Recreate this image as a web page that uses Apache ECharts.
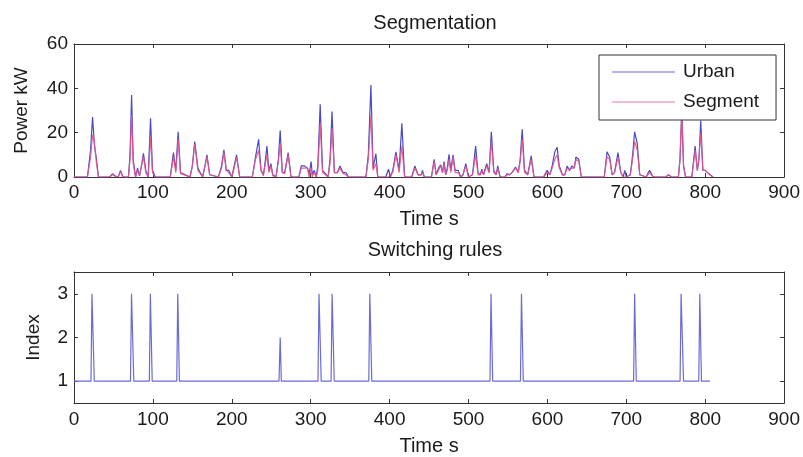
<!DOCTYPE html>
<html>
<head>
<meta charset="utf-8">
<title>Segmentation</title>
<script src="https://cdn.jsdelivr.net/npm/echarts@6/dist/echarts.min.js"></script>
<style>
  html,body{margin:0;padding:0;background:#fff;}
  #main{width:803px;height:457px;}
</style>
</head>
<body>
<div id="main"></div>
<script>
// 时间轴 (s) 与两条功率曲线 (kW)
var timeS = [0,17,21,23.5,26,28.5,31,45,49,52,56,59,62,69,71,73,75,78,80.5,83,86,88,91,94,97,99.5,103,
  122,126,129,132,135,147,150,153,157,163,166,168.5,172,183,187,190,193,196,200,203,206,210,
  226,230,234,237,240,242,244.5,247,249.5,252,256,259,261.3,264,267,271.4,275,
  285,288,292,296,298,300.5,302,304.5,307,309,312,315,322,324.5,327,330,334,337,341,344.6,348,
  370,373,376.3,379,382.6,385,395,398.6,401,404,408,412,415.5,419,
  428,432,436,440,441.6,444,453,456.4,459,462,464.8,467,469,471,473,475.3,477.5,480.4,483,487,490,
  493,496.5,500,505,509,512,515,516.7,519,523,526,528.9,532,535,537,540,
  546,549,552,555,559.6,563,565.5,568,571,575,579.4,583,
  595,599.6,603,606,609.4,612.3,615,619,622,625,628,631,634,636,639.7,643,
  672,675.5,678.9,682,685,689.4,693,696,698,700,705,708,710.5,713.9,717,725,729.5,734,
  750,753.5,757,766,768,770.3,772.5,775,783,787.2,790,792,794.3,797,800,803,806,810];
var urbanKw = [0,0,12,27,14,8,0,0,1.5,0.5,0,3,0,0,10,37,8,0,4,0.5,6,10.7,3,0,26.5,3,0,
  0,11,3,20.4,2,0,5,16,4,0,5,10,1,0,5,12.3,3,3,0,5,10,0,
  0,9,17,3,1,6,14,3,6,1,0,8,21,2,2,11,0,
  0,5,5,4,1,7,1,3,0,5,32.8,3,0,8,29.5,2,2,5,2,2,0,
  0,10,41.5,4,10.5,0,0,3.5,0,3,11.4,3,24.2,0,
  0,5,1,1,3,0,0,8,1,4,5.5,2,7,1,4,10.2,3,10,3,3,0,
  1,6,0,1,14,2,1,3.5,1,6,2,20.4,3,1,5,0,
  0,1.5,1,2,4.5,2,8,21.5,3,1,9.5,0,
  0,3,1,5,11.4,13.4,5,1,1,5,3,5,4,9,8,0,
  0,11.4,9,1,2,11,2,0,3,0,1,10,20.4,15,1,0,3,0,
  0,1,0,0,8,30,5,0,0,14,3,8,25.5,3,3,2,1,0];
var segmentKw = [0,0,9,19,15,6,0,0,1,0.3,0,2.5,0,0,8,28,6,0,3,0.5,6,9,2,0,18,2,0,
  0,9,2,17,1.5,0,5,15,3,0,5,9,1,0,4,11,3,2,0,4,9,0,
  0,8,12,3,0.5,5,10,2,5,0.5,0,7,15,2,1.5,10,0,
  0,4,4,4,0,4,0,2,0,3,24,2,0,6,22,2,2,4,1.5,1,0,
  0,8,28,3,6,0,0,0,0,2,10,2,14,0,
  0,4,1,1,2,0,0,7,1,3,5,2,6,1,3,8,2,9,2,2,0,
  1,5,0,1,10,1,1,3,1,5,2,16,2,1,4,0,
  0,1,1,2,4,2,7,17,2,1,8,0,
  0,2,1,4,8,10,4,1,1,4,3,4,4,8,7,0,
  0,9,8,1,2,9,2,0,0,0,1,8,16,12,1,0,2,0,
  0,1,0,0,8,30,5,0,0,12,3,8,20,3,3,2,1,0];

// 切换规则 (Index)
var ruleTimeS = [0,21.5,22.8,24.4,25.7,71.6,72.9,74.5,75.8,95.5,96.8,97.8,99.1,130.2,131.5,132.3,133.6,
  259.8,261.3,262.8,309.2,310.5,312,313.3,325.8,327.1,328.5,329.8,373.6,374.9,376.1,377.4,
  527.2,528.5,529.3,530.6,565.8,567.1,568.1,569.4,709.2,710.5,711.3,712.6,
  768.1,769.4,770.6,772.5,791.8,793.1,793.9,795.2,806];
var ruleIndex = [1,1,3,3,1,1,3,3,1,1,3,3,1,1,3,3,1,
  1,2,1,1,3,3,1,1,3,3,1,1,3,3,1,
  1,3,3,1,1,3,3,1,1,3,3,1,
  1,3,3,1,1,3,3,1,1];

var timeTicks = [0,100,200,300,400,500,600,700,800,900];
var powerTicks = [0,20,40,60];
var indexTicks = [1,2,3];

(function(dom){
    var chart={
        config:{
            font:"'Liberation Sans', Arial, sans-serif",
            axisColor:"#333",
            textColor:"#1a1a1a"
        },
        init:function(){
            this.myChart=echarts.init(dom.getElementById('main'),null,{renderer:'canvas'});
            this.myChart.setOption(this.buildOption());
        },
        pairs:function(xs,ys){
            var arr=[];
            for(var i=0;i<xs.length;i++){
                arr.push([xs[i],ys[i]]);
            }
            return arr;
        },
        //共用的轴线和刻度 (onZero 要关掉, 否则顶/右轴会被挪走)
        line:function(){
            return {show:true,onZero:false,lineStyle:{color:this.config.axisColor,width:1}};
        },
        tick:function(ticks){
            var t={show:true,inside:true,length:4,lineStyle:{color:this.config.axisColor}};
            if(ticks) t.customValues=ticks;
            return t;
        },
        //底部x轴(带标签)
        xBottom:function(grid,gap,margin){
            var c=this.config;
            return {
                type:'value',gridIndex:grid,position:'bottom',
                min:0,max:900,interval:100,
                name:'Time s',nameLocation:'middle',nameGap:gap,
                nameTextStyle:{fontFamily:c.font,fontSize:20,color:c.textColor},
                axisLine:this.line(),
                axisTick:this.tick(timeTicks),
                axisLabel:{fontFamily:c.font,fontSize:19,color:c.textColor,margin:margin,
                    customValues:timeTicks},
                splitLine:{show:false}
            };
        },
        //顶部x轴(只有刻度)
        xTop:function(grid){
            return {
                type:'value',gridIndex:grid,position:'top',
                min:0,max:900,interval:100,
                axisLine:this.line(),
                axisTick:this.tick(timeTicks),
                axisLabel:{show:false},
                splitLine:{show:false}
            };
        },
        yLeft:function(grid,name,gap,min,max,ticks){
            var c=this.config;
            return {
                type:'value',gridIndex:grid,position:'left',
                min:min,max:max,
                name:name,nameLocation:'middle',nameGap:gap,
                nameTextStyle:{fontFamily:c.font,fontSize:19,color:c.textColor},
                axisLine:this.line(),
                axisTick:this.tick(ticks),
                axisLabel:{fontFamily:c.font,fontSize:19,color:c.textColor,margin:6,customValues:ticks},
                splitLine:{show:false}
            };
        },
        yRight:function(grid,min,max,ticks){
            return {
                type:'value',gridIndex:grid,position:'right',
                min:min,max:max,
                axisLine:this.line(),
                axisTick:this.tick(ticks),
                axisLabel:{show:false},
                splitLine:{show:false}
            };
        },
        buildOption:function(){
            var c=this.config;
            return {
                animation:false,
                backgroundColor:'#fff',
                title:[
                    {text:'Segmentation',left:430,top:8,textAlign:'center',
                        textStyle:{fontFamily:c.font,fontSize:20,fontWeight:'normal',color:c.textColor}},
                    {text:'Switching rules',left:430,top:235,textAlign:'center',
                        textStyle:{fontFamily:c.font,fontSize:20,fontWeight:'normal',color:c.textColor}}
                ],
                grid:[
                    {left:74,right:17,top:44,height:133},
                    {left:74,right:17,top:272,height:131}
                ],
                legend:{
                    data:['Urban','Segment'],
                    orient:'vertical',
                    left:599,top:55,
                    backgroundColor:'#fff',
                    borderColor:'#333',borderWidth:1,
                    padding:[7,17,8,13],
                    icon:'rect',itemWidth:63,itemHeight:1,itemGap:10,
                    textStyle:{fontFamily:c.font,fontSize:19,color:c.textColor,lineHeight:20,padding:[0,0,0,3]},
                    z:10
                },
                xAxis:[this.xBottom(0,32,6),this.xTop(0),this.xBottom(1,33,7),this.xTop(1)],
                yAxis:[
                    this.yLeft(0,'Power kW',43,0,60,powerTicks),
                    this.yRight(0,0,60,powerTicks),
                    this.yLeft(1,'Index',31,0.5,3.5,indexTicks),
                    this.yRight(1,0.5,3.5,indexTicks)
                ],
                series:[
                    {
                        name:'Urban',type:'line',xAxisIndex:0,yAxisIndex:0,
                        showSymbol:false,symbol:'none',
                        itemStyle:{color:'#6a6ad8'},
                        lineStyle:{color:'#4a4ac4',width:1.2},
                        data:this.pairs(timeS,urbanKw)
                    },
                    {
                        name:'Segment',type:'line',xAxisIndex:0,yAxisIndex:0,
                        showSymbol:false,symbol:'none',
                        itemStyle:{color:'#ea7aa2'},
                        lineStyle:{color:'#e4558c',width:1.2,opacity:0.9},
                        data:this.pairs(timeS,segmentKw)
                    },
                    {
                        name:'Index',type:'line',xAxisIndex:2,yAxisIndex:2,
                        showSymbol:false,symbol:'none',
                        lineStyle:{color:'#6b6bd6',width:1.2},
                        data:this.pairs(ruleTimeS,ruleIndex)
                    }
                ]
            };
        }
    };
    chart.init();
})(document);
</script>
</body>
</html>
